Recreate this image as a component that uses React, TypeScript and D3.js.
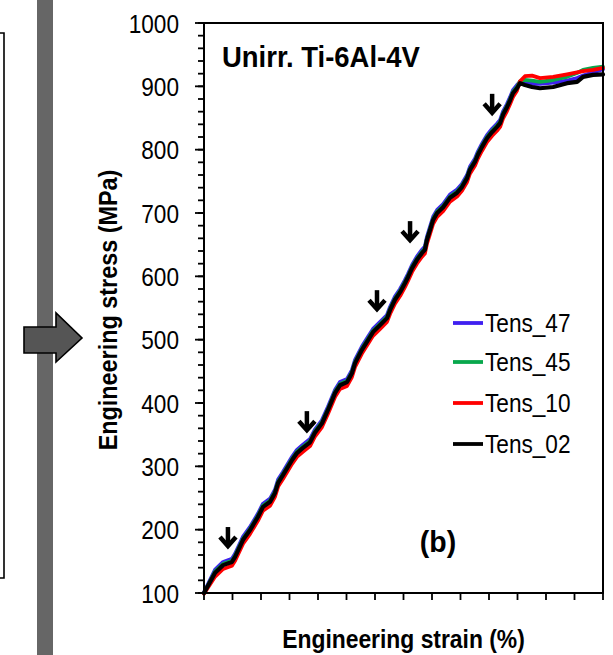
import React from "react";
import * as d3 from "d3";

// ---- data ----
const strainPts = [
  0.0, 0.039, 0.067, 0.098, 0.109, 0.137, 0.161, 0.189, 0.207, 0.232,
  0.249, 0.26, 0.277, 0.309, 0.326, 0.347, 0.372, 0.389, 0.414, 0.435,
  0.46, 0.477, 0.502, 0.519, 0.53, 0.554, 0.575, 0.593, 0.618, 0.642,
  0.653, 0.67, 0.688, 0.705, 0.716, 0.73, 0.747, 0.765, 0.775, 0.782,
  0.793, 0.804, 0.818, 0.839, 0.863, 0.888, 0.905, 0.923, 0.933, 0.951,
  0.961, 0.975, 0.993, 1.011, 1.028, 1.039, 1.049, 1.063, 1.074, 1.084,
  1.098, 1.109, 1.126, 1.151, 1.179, 1.225, 1.274, 1.309, 1.33, 1.365, 1.4,
];

const tens47 = [
  101, 137, 149, 154, 162, 189, 204, 225, 241, 249,
  263, 279, 291, 315, 326, 334, 343, 358, 373, 394,
  421, 433, 438, 452, 468, 489, 504, 517, 528, 539,
  552, 568, 580, 594, 604, 618, 631, 642, 647, 662,
  678, 694, 705, 714, 729, 737, 746, 760, 773, 786,
  797, 809, 823, 833, 841, 847, 860, 872, 883, 894,
  902, 907, 906, 904, 904, 906, 909, 913, 917, 922, 927,
];

const tens45 = [
  100, 134, 146, 151, 159, 186, 201, 222, 238, 246,
  260, 276, 288, 312, 323, 331, 340, 355, 370, 391,
  418, 430, 435, 449, 465, 486, 501, 514, 525, 536,
  549, 565, 577, 591, 601, 615, 628, 639, 644, 659,
  675, 691, 702, 711, 726, 734, 743, 757, 770, 783,
  794, 806, 820, 830, 838, 844, 857, 869, 880, 891,
  899, 908, 910, 909, 907, 910, 915, 921, 926, 929, 931,
];

const tens10 = [
  99, 126, 138, 143, 151, 178, 193, 214, 230, 238,
  252, 268, 280, 304, 315, 323, 332, 347, 362, 383,
  410, 422, 427, 441, 457, 478, 493, 506, 517, 528,
  541, 557, 569, 583, 593, 607, 620, 631, 636, 651,
  667, 683, 694, 703, 718, 726, 735, 749, 762, 775,
  786, 798, 812, 822, 830, 836, 849, 861, 872, 883,
  893, 908, 916, 917, 913, 915, 919, 922, 924, 926, 929,
];

const tens02 = [
  100, 132, 144, 149, 157, 184, 199, 220, 236, 244,
  258, 274, 286, 310, 321, 329, 338, 353, 368, 389,
  416, 428, 433, 447, 463, 484, 499, 512, 523, 534,
  547, 563, 575, 589, 599, 613, 626, 637, 642, 657,
  673, 689, 700, 709, 724, 732, 741, 755, 768, 781,
  792, 804, 818, 828, 836, 842, 855, 867, 878, 889,
  897, 905, 902, 899, 897, 899, 905, 907, 915, 918, 919,
];

const seriesNames = ["Tens_47", "Tens_45", "Tens_10", "Tens_02"];
const seriesValues = [tens47, tens45, tens10, tens02];
const seriesColors = ["#3f1ff0", "#08a84c", "#ff0000", "#000000"];

const yMajorTicks = [100, 200, 300, 400, 500, 600, 700, 800, 900, 1000];

// arrow annotations (tip positions)
const arrowStrain = [0.084, 0.361, 0.607, 0.723, 1.011];
const arrowStress = [171, 354, 545, 654, 855];

const FONT = "'Liberation Sans', Arial, Helvetica, sans-serif";

export default function App() {
  const left = 204, right = 603, top = 23, bottom = 593;
  const x = d3.scaleLinear().domain([0, 1.4]).range([left, right]);
  const y = d3.scaleLinear().domain([100, 1000]).range([bottom, top]);
  const line = d3
    .line<number>()
    .x((_, i) => x(strainPts[i]))
    .y((d) => y(d))
    .curve(d3.curveLinear);

  const xTicks = d3.range(0, 1.4001, 0.1);
  const yMinor = d3.range(100, 1000.1, 20);

  const legendY = [323, 362, 403, 444];

  return (
    <div style={{ position: "fixed", left: 0, top: 0 }}>
      <svg width={613} height={655} style={{ display: "block", background: "#fff" }}>
        {/* left panel remnants */}
        <path d="M0,33 H4 V578 H0" fill="none" stroke="#000" strokeWidth={1.6} />
        <rect x={37} y={0} width={16} height={655} fill="#666666" />
        <path
          d="M24,327 H56 V313 L82,338 L56,362 V353 H24 Z"
          fill="#555555"
          stroke="#000"
          strokeWidth={1.6}
          strokeLinejoin="miter"
        />

        {/* series */}
        <g fill="none" strokeLinejoin="round" strokeLinecap="round">
          {seriesValues.map((vals, si) => (
            <path
              key={si}
              d={line(vals) || ""}
              stroke={seriesColors[si]}
              strokeWidth={si === 3 ? 4.2 : 3.8}
            />
          ))}
        </g>

        {/* arrows */}
        <g stroke="#000" strokeWidth={4.5} fill="none" strokeLinecap="butt" strokeLinejoin="miter">
          {arrowStrain.map((s, i) => {
            const ax = x(s);
            const ay = y(arrowStress[i]);
            return (
              <g key={i} transform={`translate(${ax},${ay})`}>
                <line x1={0} y1={-21} x2={0} y2={-3} />
                <polyline points="-8,-11 0,-2 8,-11" />
              </g>
            );
          })}
        </g>

        {/* frame */}
        <rect x={left} y={top} width={right - left} height={bottom - top} fill="none" stroke="#000" strokeWidth={2} />

        {/* y ticks */}
        <g stroke="#000" strokeWidth={1.8}>
          {yMinor.map((v) => (
            <line key={"m" + v} x1={left - 6} x2={left} y1={y(v)} y2={y(v)} />
          ))}
          {yMajorTicks.map((v) => (
            <line key={"M" + v} x1={left - 9} x2={left} y1={y(v)} y2={y(v)} />
          ))}
          {xTicks.map((v, i) => (
            <line key={"x" + i} x1={x(v)} x2={x(v)} y1={bottom} y2={bottom + 7} />
          ))}
        </g>

        {/* y tick labels */}
        <g fontFamily={FONT} fontSize={26} fill="#000">
          {yMajorTicks.map((v) => (
            <text
              key={v}
              transform={`translate(${left - 25},${y(v) + 9.5}) scale(0.87,1)`}
              textAnchor="end"
            >
              {v}
            </text>
          ))}
        </g>

        {/* axis titles */}
        <text
          transform={`translate(117,${(top + bottom) / 2 + 2}) rotate(-90) scale(0.9,1)`}
          textAnchor="middle"
          fontFamily={FONT}
          fontWeight="bold"
          fontSize={26}
        >
          Engineering stress (MPa)
        </text>
        <text
          transform={`translate(${(left + right) / 2},648) scale(0.88,1)`}
          textAnchor="middle"
          fontFamily={FONT}
          fontWeight="bold"
          fontSize={26}
        >
          Engineering strain (%)
        </text>

        {/* annotations */}
        <text
          transform="translate(222,67) scale(0.915,1)"
          fontFamily={FONT}
          fontWeight="bold"
          fontSize={30}
        >
          Unirr. Ti-6Al-4V
        </text>
        <text
          transform="translate(438,552) scale(0.95,1)"
          textAnchor="middle"
          fontFamily={FONT}
          fontWeight="bold"
          fontSize={30}
        >
          (b)
        </text>

        {/* legend */}
        <g fontFamily={FONT} fontSize={26}>
          {seriesNames.map((n, i) => (
            <g key={n}>
              <line x1={453} x2={483} y1={legendY[i]} y2={legendY[i]} stroke={seriesColors[i]} strokeWidth={3.8} />
              <text transform={`translate(485,${legendY[i] + 9}) scale(0.87,1)`}>{n}</text>
            </g>
          ))}
        </g>
      </svg>
    </div>
  );
}
